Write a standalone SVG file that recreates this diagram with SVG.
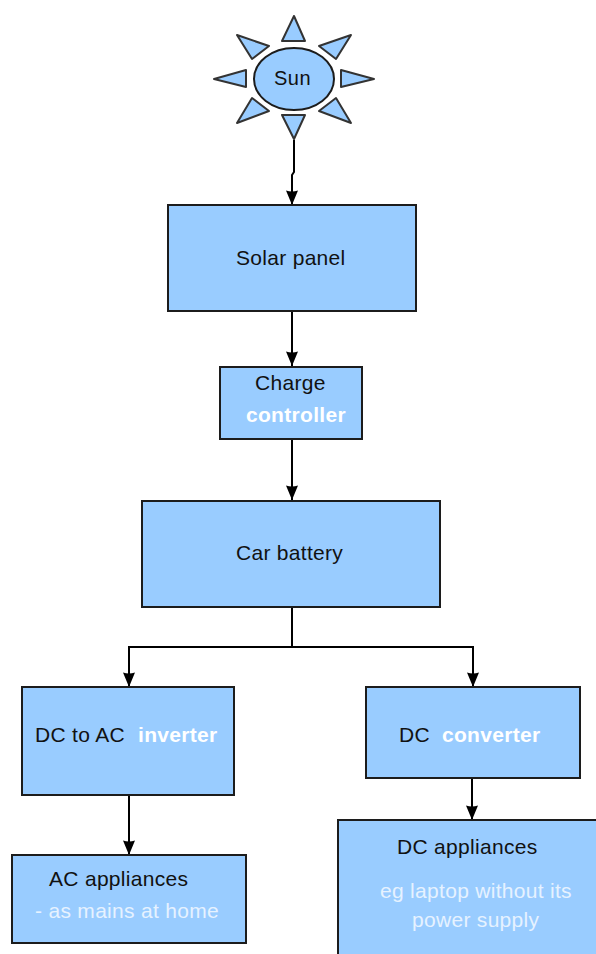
<svg xmlns="http://www.w3.org/2000/svg" width="596" height="954" viewBox="0 0 596 954">
<style>
.n{fill:#99ccff;stroke:#1c1c1c;stroke-width:2}
.r{fill:#99ccff;stroke:#333;stroke-width:2;stroke-linejoin:round}
text{font-family:"Liberation Sans",Arial,sans-serif;font-size:21px;letter-spacing:.3px;fill:#111}
.w{fill:#fff;font-weight:bold}
.l{fill:#e6f2ff}
.c{fill:none;stroke:#000;stroke-width:2;marker-end:url(#a)}
.c2{fill:none;stroke:#000;stroke-width:2}
</style>
<defs>
<marker id="a" markerUnits="userSpaceOnUse" markerWidth="16" markerHeight="14" refX="15" refY="7" orient="auto" viewBox="0 0 16 14"><path d="M0.500 1 Q2.500 7 0.500 13 L15 7Z" fill="#000"/></marker>
</defs>
<rect width="596" height="954" fill="#fff"/>
<g id="connectors">
<path class="c" d="M294 140V172L292 175V205"/>
<path class="c" d="M292 311V366"/>
<path class="c" d="M292 439V500"/>
<path class="c2" d="M292 607V647"/>
<path class="c" d="M292 647H129V687"/>
<path class="c" d="M292 647H473V687"/>
<path class="c" d="M129 796V855"/>
<path class="c" d="M472 778V820"/>
</g>
<g id="sun">
<polygon class="r" points="294,16 282,41 305,41"/>
<polygon class="r" points="237,35 269,46 252,59"/>
<polygon class="r" points="351,35 319,46 336,59"/>
<polygon class="r" points="214,79 246,70 246,87"/>
<polygon class="r" points="374,79 341,70 341,87"/>
<polygon class="r" points="237,123 269,111 252,98"/>
<polygon class="r" points="351,123 319,111 336,98"/>
<polygon class="r" points="294,139 282,115 305,115"/>
<ellipse class="n" cx="294" cy="79" rx="40" ry="31"/>
<text x="274" y="85" style="font-size:20px;letter-spacing:.5px">Sun</text>
</g>
<g id="solar-panel"><rect class="n" x="168" y="205" width="248" height="106"/><text x="236" y="265">Solar panel</text></g>
<g id="charge-controller"><rect class="n" x="220" y="367" width="142" height="72"/><text x="255" y="390">Charge</text><text class="w" x="246" y="422">controller</text></g>
<g id="car-battery"><rect class="n" x="142" y="501" width="298" height="106"/><text x="236" y="560">Car battery</text></g>
<g id="inverter"><rect class="n" x="22" y="687" width="212" height="108"/><text x="35" y="742">DC to AC</text><text class="w" x="138" y="742">inverter</text></g>
<g id="converter"><rect class="n" x="366" y="687" width="214" height="91"/><text x="399" y="742">DC</text><text class="w" x="442" y="742">converter</text></g>
<g id="ac-appliances"><rect class="n" x="12" y="855" width="234" height="88"/><text x="49" y="886">AC appliances</text><text class="l" x="35" y="918">- as mains at home</text></g>
<g id="dc-appliances"><rect class="n" x="338" y="820" width="262" height="150"/><text x="397" y="854">DC appliances</text><text class="l" x="380" y="898">eg laptop without its</text><text class="l" x="412" y="927">power supply</text></g>
</svg>
